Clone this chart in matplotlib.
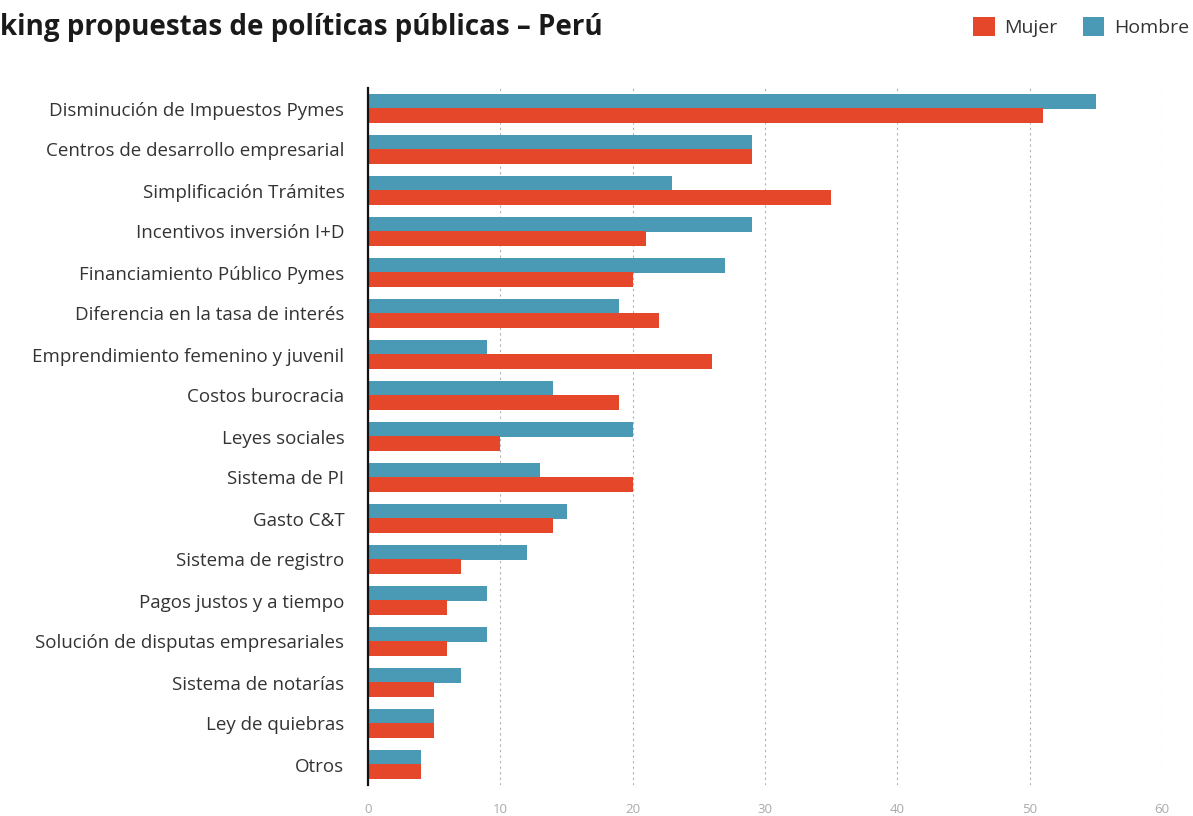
import matplotlib
matplotlib.use("Agg")
import matplotlib.pyplot as plt
import numpy as np

categories = [
    "Disminución de Impuestos Pymes",
    "Centros de desarrollo empresarial",
    "Simplificación Trámites",
    "Incentivos inversión I+D",
    "Financiamiento Público Pymes",
    "Diferencia en la tasa de interés",
    "Emprendimiento femenino y juvenil",
    "Costos burocracia",
    "Leyes sociales",
    "Sistema de PI",
    "Gasto C&T",
    "Sistema de registro",
    "Pagos justos y a tiempo",
    "Solución de disputas empresariales",
    "Sistema de notarías",
    "Ley de quiebras",
    "Otros",
]
hombre = [55, 29, 23, 29, 27, 19, 9, 14, 20, 13, 15, 12, 9, 9, 7, 5, 4]
mujer = [51, 29, 35, 21, 20, 22, 26, 19, 10, 20, 14, 7, 6, 6, 5, 5, 4]
xticks = [0, 10, 20, 30, 40, 50, 60]
title = "king propuestas de políticas públicas – Perú"

RED = "#e5472a"
BLUE = "#4a9ab5"
FONT = ["Open Sans", "DejaVu Sans"]
plt.rcParams["font.family"] = FONT

fig = plt.figure(figsize=(11.93, 8.16), dpi=100)
ax = fig.add_axes([368 / 1193, 1 - 785 / 816, (1162 - 368) / 1193, (785 - 88) / 816])

y = np.arange(len(categories))
h = 0.355
ax.barh(y - 0.175, hombre, height=h, color=BLUE, label="Hombre", zorder=3, linewidth=0)
ax.barh(y + 0.175, mujer, height=h, color=RED, label="Mujer", zorder=3, linewidth=0)

ax.set_ylim(len(categories) - 0.5, -0.5)
ax.set_xlim(0, 60)
ax.set_yticks(y)
ax.set_yticklabels(categories, fontsize=13.5, color="#333333")
ax.set_xticks(xticks)
ax.set_xticklabels([str(t) for t in xticks], fontsize=9.5, color="#aaaaaa")
ax.tick_params(axis="y", length=0, pad=17)
ax.tick_params(axis="x", length=0, pad=13)

for s in ["top", "right", "bottom"]:
    ax.spines[s].set_visible(False)
ax.spines["left"].set_color("#111111")
ax.spines["left"].set_linewidth(1.6)
ax.spines["left"].set_zorder(4)

ax.xaxis.grid(True, linestyle=(0, (2, 3)), color="#b0b0b0", linewidth=0.8, zorder=0)
ax.set_axisbelow(True)

fig.text(0.0, 1 - 27 / 816, title, fontsize=20, fontweight="bold",
         color="#1a1a1a", ha="left", va="center")

handles, labels = ax.get_legend_handles_labels()
leg = fig.legend([handles[1], handles[0]], [labels[1], labels[0]],
                 loc="center right", bbox_to_anchor=(1.0, 1 - 27 / 816),
                 ncol=2, frameon=False, fontsize=14, handlelength=1.1,
                 handleheight=1.1, handletextpad=0.5, columnspacing=1.3,
                 borderaxespad=0.0, borderpad=0.2)
for t in leg.get_texts():
    t.set_color("#333333")

fig.savefig("out.png", dpi=100, facecolor="white")
